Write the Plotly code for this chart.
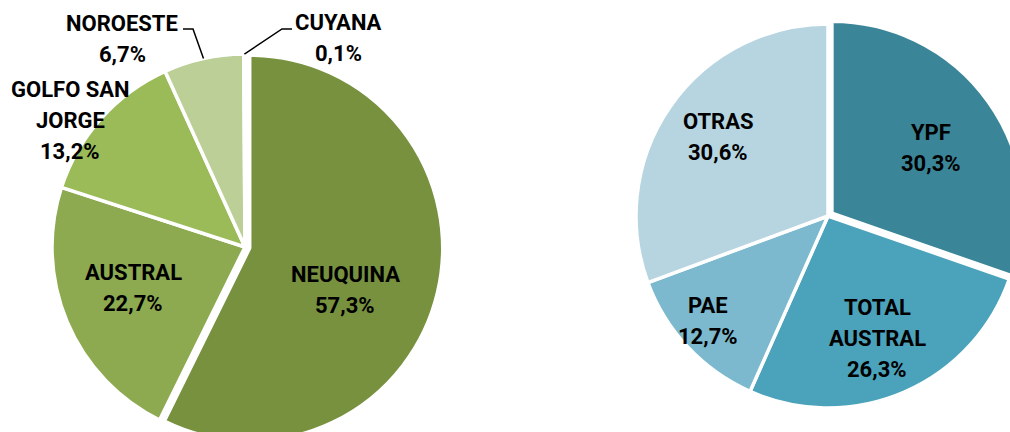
import math
import plotly.graph_objects as go

# ---------------- data ----------------
cuencas = ["NEUQUINA", "AUSTRAL", "GOLFO SAN\nJORGE", "NOROESTE", "CUYANA"]
cuencas_val = [57.3, 22.7, 13.2, 6.7, 0.1]

empresas = ["YPF", "TOTAL\nAUSTRAL", "PAE", "OTRAS"]
empresas_val = [30.3, 26.3, 12.7, 30.6]

# ---------------- style ----------------
green_colors = ["#77913F", "#8DAA51", "#9BBB59", "#BBCF97", "#D7E4BD"]
blue_colors = ["#3A8698", "#4BA3BB", "#7CB9CE", "#B7D5E0"]

W, H = 1040, 455
FONT = "Roboto"
FSIZE = 22
LINE_GAP = 31

# pie geometry in pixels (centre, radius of the un-pulled pie, pull of the first slice)
LEFT = dict(cx=245, cy=247, r=193, pull=0.025)
RIGHT = dict(cx=828, cy=216, r=192, pull=0.025)

# label block centres (pixels) and leader line info
left_label_pos = [(345, 290), (133, 288), (70, 121), (122, 39), (338, 38)]
right_label_pos = [(931, 148), (877, 338), (708, 321), (718, 137)]
# leader lines: slice index -> (text-side x start, x elbow, y)
left_leaders = {3: (183, 193, 29), 4: (292, 282, 29)}


def domain(g):
    half = g["r"] * (1 + g["pull"])
    x0, x1 = (g["cx"] - half) / W, (g["cx"] + half) / W
    y0, y1 = 1 - (g["cy"] + half) / H, 1 - (g["cy"] - half) / H
    return dict(x=[x0, x1], y=[y0, y1])


def px(x, y):
    return x / W, 1 - y / H


def pct(v):
    return f"{v:.1f}".replace(".", ",") + "%"


fig = go.Figure()

fig.add_trace(go.Pie(
    labels=[c.replace("\n", " ") for c in cuencas], values=cuencas_val,
    sort=False, direction="clockwise", rotation=0,
    pull=[LEFT["pull"]] + [0] * (len(cuencas_val) - 1),
    marker=dict(colors=green_colors, line=dict(color="white", width=3.5)),
    textinfo="none", hoverinfo="label+percent", domain=domain(LEFT),
    showlegend=False,
))
fig.add_trace(go.Pie(
    labels=[e.replace("\n", " ") for e in empresas], values=empresas_val,
    sort=False, direction="clockwise", rotation=0,
    pull=[RIGHT["pull"]] + [0] * (len(empresas_val) - 1),
    marker=dict(colors=blue_colors, line=dict(color="white", width=3.5)),
    textinfo="none", hoverinfo="label+percent", domain=domain(RIGHT),
    showlegend=False,
))

annotations = []


def add_labels(names, vals, positions):
    for name, v, (x, yc) in zip(names, vals, positions):
        lines = name.split("\n") + [pct(v)]
        n = len(lines)
        for i, t in enumerate(lines):
            y = yc + (i - (n - 1) / 2) * LINE_GAP
            ax, ay = px(x, y)
            annotations.append(dict(
                x=ax, y=ay, xref="paper", yref="paper", text=f"<b>{t}</b>",
                showarrow=False, xanchor="center", yanchor="middle",
                font=dict(family=FONT, size=FSIZE, color="#000000"),
            ))


add_labels(cuencas, cuencas_val, left_label_pos)
add_labels(empresas, empresas_val, right_label_pos)

# leader lines to the middle of small slices' outer edge
shapes = []
total = sum(cuencas_val)
cum = 0
for i, v in enumerate(cuencas_val):
    mid = (cum + v / 2) / total * 2 * math.pi
    cum += v
    if i in left_leaders:
        xs, xe, yl = left_leaders[i]
        ex = LEFT["cx"] + LEFT["r"] * math.sin(mid)
        ey = LEFT["cy"] - LEFT["r"] * math.cos(mid)
        p = [px(xs, yl), px(xe, yl), px(ex, ey)]
        path = "M {} {} L {} {} L {} {}".format(p[0][0], p[0][1], p[1][0], p[1][1], p[2][0], p[2][1])
        shapes.append(dict(type="path", xref="paper", yref="paper", path=path,
                           line=dict(color="black", width=1.5)))

fig.update_layout(
    width=W, height=H, autosize=False,
    margin=dict(l=0, r=0, t=0, b=0, pad=0),
    paper_bgcolor="white", plot_bgcolor="white",
    annotations=annotations, shapes=shapes,
)

fig.write_html(
    "out.html",
    config={"displayModeBar": False},
    post_script="document.body.style.margin='0';document.body.style.overflow='hidden';"
                "document.documentElement.style.overflow='hidden';",
)
